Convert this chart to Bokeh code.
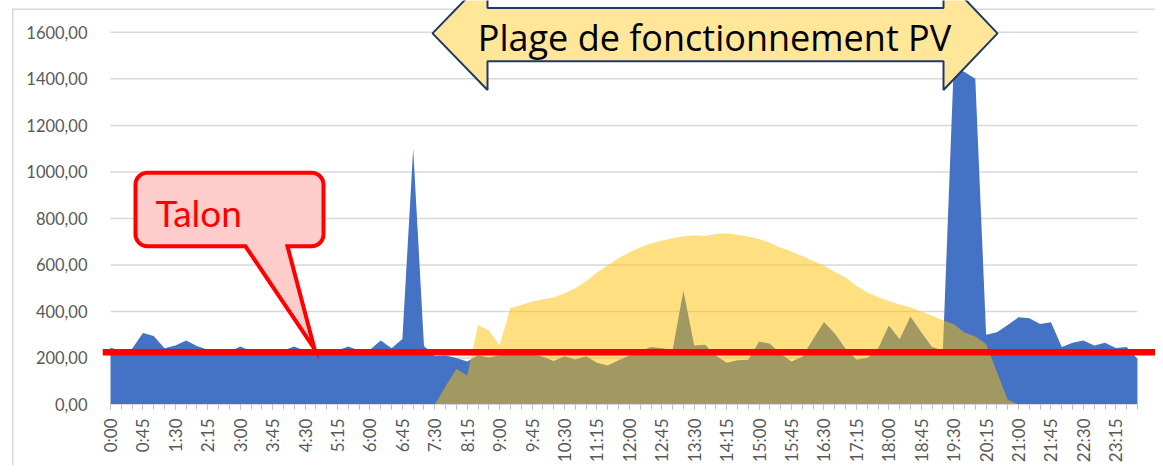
import math
from bokeh.plotting import figure
from bokeh.models import Range1d, FixedTicker, Span
from bokeh.core.properties import value
from bokeh.embed import file_html
from bokeh.resources import INLINE

# ---------------- data ----------------
times = [f"{h}:{m:02d}" for h in range(24) for m in (0, 15, 30, 45)]

consumption = [
    245, 228, 240, 307, 294, 242, 254, 275, 251, 235, 228, 226,
    249, 230, 228, 230, 232, 249, 230, 228, 226, 232, 249, 232,
    235, 275, 242, 282, 1100, 251, 209, 211, 200, 185, 212, 202,
    212, 216, 216, 216, 205, 187, 207, 194, 207, 180, 168, 190,
    211, 230, 247, 242, 235, 489, 254, 257, 211, 180, 190, 192,
    271, 261, 218, 185, 205, 282, 355, 305, 240, 194, 200, 240,
    340, 280, 378, 311, 247, 232, 1450, 1430, 1400, 300, 311, 342,
    375, 371, 346, 354, 247, 265, 275, 254, 265, 243, 247, 197,
]

pv = [
    0, 0, 0, 0, 0, 0, 0, 0, 0, 0, 0, 0,
    0, 0, 0, 0, 0, 0, 0, 0, 0, 0, 0, 0,
    0, 0, 0, 0, 0, 0, 0, 78, 154, 125, 342, 318,
    254, 415, 428, 443, 452, 460, 478, 500, 530, 568, 598, 630,
    655, 675, 692, 704, 715, 722, 728, 724, 733, 735, 730, 722,
    712, 695, 674, 658, 638, 617, 598, 570, 546, 510, 482, 462,
    445, 430, 418, 400, 383, 362, 346, 310, 292, 260, 140, 20,
    0, 0, 0, 0, 0, 0, 0, 0, 0, 0, 0, 0,
]

talon = 225
y_ticks = [0, 200, 400, 600, 800, 1000, 1200, 1400, 1600]
y_labels = ["0,00", "200,00", "400,00", "600,00", "800,00",
            "1000,00", "1200,00", "1400,00", "1600,00"]
label_step = 3

assert len(consumption) == len(times) == len(pv)
idx = list(range(len(times)))

# ---------------- geometry (figure pixels) ----------------
W, H = 1155, 465
FRAME_LEFT, FRAME_BOTTOM = 102, 59
X0, DX = 110.0, 10.81                      # px of first point, px per step
Y0, SY = 406.0, 374.0 / 1600.0             # px of value 0, px per unit
x_start = (FRAME_LEFT - X0) / DX
x_end = (W - X0) / DX
y_end = (H - FRAME_BOTTOM) / SY


def px(xp):
    return (xp - X0) / DX


def py(yp):
    return (Y0 - yp) / SY


p = figure(width=W, height=H, output_backend="svg", toolbar_location=None,
           x_range=Range1d(x_start, x_end), y_range=Range1d(0, y_end),
           min_border_left=FRAME_LEFT, min_border_right=0,
           min_border_top=0, min_border_bottom=FRAME_BOTTOM)
p.outline_line_color = None
p.xgrid.visible = False
p.ygrid.visible = False
p.background_fill_color = None
p.border_fill_color = None
# light grey outer chart border (left and top edges), drawn behind the transparent canvas
p.styles = {"background-color": "white",
            "box-shadow": "inset 12px 8.5px 0 0 #FFFFFF, inset 13.5px 10px 0 0 #D9D9D9"}

# gridlines
n = len(times) - 1
p.segment(x0=[0] * len(y_ticks), x1=[n] * len(y_ticks), y0=y_ticks, y1=y_ticks,
          line_color="#D9D9D9", line_width=1.5)

# areas
p.varea(x=idx, y1=[0] * len(idx), y2=consumption, fill_color="#4472C4")
p.varea(x=idx, y1=[0] * len(idx), y2=pv, fill_color="#FFC000", fill_alpha=0.5)

# Talon callout
L, R, T, B, r = 135, 323, 173, 247, 12
pts = []
def arc(cx, cy, a0, a1, steps=8):
    for k in range(steps + 1):
        a = math.radians(a0 + (a1 - a0) * k / steps)
        pts.append((cx + r * math.cos(a), cy + r * math.sin(a)))
arc(L + r, T + r, 180, 270)
arc(R - r, T + r, 270, 360)
arc(R - r, B - r, 0, 90)
pts.append((287, B))
pts.append((314, 350))
pts.append((245, B))
arc(L + r, B - r, 90, 180)
p.patch(x=[px(a) for a, b in pts], y=[py(b) for a, b in pts],
        fill_color="#FFCCCC", line_color="#FF0000", line_width=4, line_join="miter")
p.text(x=[px(155)], y=[py(213)], text=["Talon"], text_font=value("Lato"),
       text_font_size="37px", text_color="#FF0000", text_baseline="alphabetic",
       text_align="left")

# Talon line
p.add_layout(Span(location=talon, dimension="width", line_color="#FF0000", line_width=6.5))

# PV range double arrow
arrow = [(432, 33), (487, -24), (487, 7.5), (943, 7.5), (943, -24), (997, 33),
         (943, 90), (943, 61), (487, 61), (487, 90)]
p.patch(x=[px(a) for a, b in arrow], y=[py(b) for a, b in arrow],
        fill_color="#FFE699", line_color="#1F3864", line_width=2)
p.text(x=[px(714)], y=[py(37)], text=["Plage de fonctionnement PV"],
       text_font=value("Open Sans"), text_font_size="36px", text_color="black",
       text_baseline="alphabetic", text_align="center")

# axes
xa = p.xaxis[0]
xa.ticker = FixedTicker(ticks=idx[::label_step], minor_ticks=idx)
xa.major_label_overrides = {i: times[i] for i in idx[::label_step]}
xa.bounds = (0, n)
xa.axis_line_color = "#D9D9D9"
xa.major_tick_line_color = "#BFBFBF"
xa.minor_tick_line_color = "#BFBFBF"
xa.major_tick_in = 0
xa.major_tick_out = 5
xa.minor_tick_in = 0
xa.minor_tick_out = 5
xa.major_label_orientation = math.pi / 2
xa.major_label_standoff = 9
xa.major_label_text_font = "Lato"
xa.major_label_text_font_size = "17px"
xa.major_label_text_color = "#595959"

ya = p.yaxis[0]
ya.ticker = FixedTicker(ticks=y_ticks)
ya.major_label_overrides = dict(zip(y_ticks, y_labels))
ya.axis_line_color = None
ya.major_tick_line_color = None
ya.minor_tick_line_color = None
ya.major_label_standoff = 9
ya.major_label_text_font = "Lato"
ya.major_label_text_font_size = "16.5px"
ya.major_label_text_color = "#595959"

open("out.html", "w").write(file_html(p, INLINE))
